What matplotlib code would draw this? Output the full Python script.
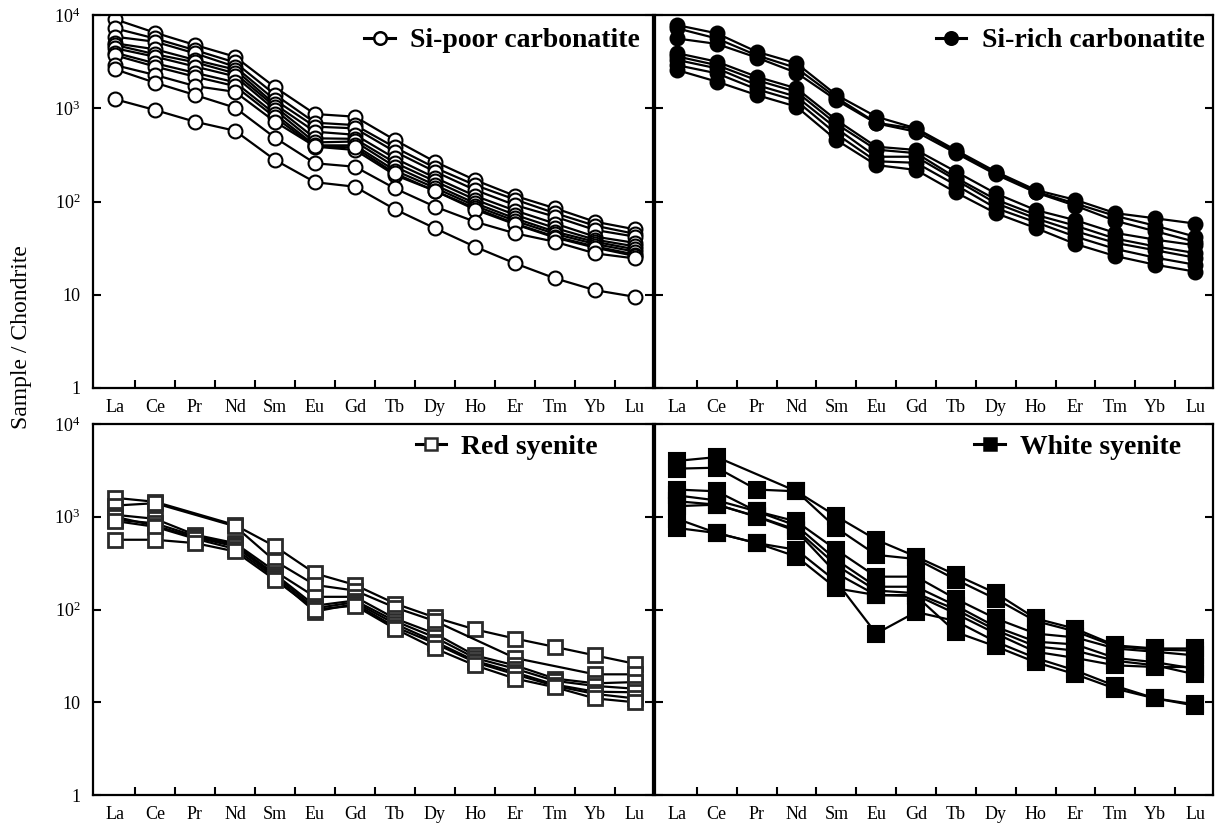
import numpy as np
import matplotlib
matplotlib.use("Agg")
import matplotlib.pyplot as plt
from matplotlib.lines import Line2D

plt.rcParams['font.family'] = ['Liberation Serif', 'DejaVu Serif']
plt.rcParams['mathtext.fontset'] = 'custom'
plt.rcParams['mathtext.rm'] = 'Liberation Serif'
plt.rcParams['mathtext.it'] = 'Liberation Serif:italic'
plt.rcParams['mathtext.bf'] = 'Liberation Serif:bold'

elements = ["La", "Ce", "Pr", "Nd", "Sm", "Eu", "Gd", "Tb", "Dy", "Ho", "Er", "Tm", "Yb", "Lu"]
ytick_vals = [1, 10, 100, 1000, 10000]
ytick_labels = ["1", "10", "$10^2$", "$10^3$", "$10^4$"]
nan = np.nan

si_poor = [
    [9000, 6460, 4770, 3570, 1680, 867, 812, 456, 267, 170, 115, 84.6, 60.7, 50.3],
    [7200, 5600, 4200, 3100, 1400, 700, 660, 380, 230, 150, 105, 75, 55, 45],
    [5850, 5170, 3880, 2790, 1225, 635, 609, 342, 209, 133, 91.6, 68.7, 49.5, 42],
    [4970, 4290, 3300, 2600, 1100, 560, 520, 290, 180, 115, 80, 58, 42, 36],
    [4770, 3800, 3110, 2370, 1040, 476, 470, 260, 165, 105, 72, 52, 39, 33],
    [4400, 3570, 2800, 2200, 960, 430, 440, 236, 150, 96, 66, 47.5, 37, 30.7],
    [3940, 3035, 2400, 1900, 867, 400, 400, 215, 140, 90, 62, 45, 35, 29],
    [3700, 2800, 2180, 1730, 800, 387, 357, 192, 130, 85, 58, 42, 33, 27],
    [2900, 2275, 1730, 1500, 717, 390, 380, 200, 130, 82, 57, 41, 32, 26],
    [2620, 1880, 1387, 1015, 483, 257, 236, 138, 88, 60.7, 45.6, 37, 27.8, 24.5],
    [1250, 958, 717, 574, 279, 161, 144, 82.4, 51.6, 32.7, 21.7, 15, 11.2, 9.5],
]

si_rich = [
    [7800, 6360, 4040, 3035, 1390, 812, 609, 355, 209, 133, 104, 75, 66, 58],
    [7200, 5600, 3700, 2700, 1300, 700, 600, 340, 200, 128, 95, 70, 55, 42],
    [5600, 4900, 3500, 2400, 1225, 689, 560, 330, 195, 125, 90, 62, 48, 37],
    [3900, 3160, 2180, 1635, 748, 387, 357, 209, 122, 81, 63, 46, 39, 34],
    [3600, 2900, 2000, 1500, 680, 360, 330, 180, 105, 72, 55, 40, 33, 28],
    [3300, 2680, 1775, 1330, 609, 302, 302, 170, 96, 66, 48, 36, 30, 25],
    [2900, 2370, 1600, 1200, 530, 270, 260, 150, 85, 60, 42, 31, 25, 21],
    [2570, 1930, 1387, 1040, 457, 246, 218, 125, 75, 52, 35, 26, 21, 17.7],
]

red_syenite = [
    [1600, 1450, nan, 815, 479, 245, 184, 116, 82, 61, 48.6, 39.5, 32, 26],
    [1320, 1400, nan, 790, 333, 184, 160, 105, 75, nan, 30, nan, 20, 20],
    [1050, 950, 640, 520, 258, 137, 137, 80, 55, 32, 25, 18, 16, 16.5],
    [930, 850, 620, 500, 240, 110, 125, 75, 50, 30, 23, 17, 15, 14],
    [1000, 800, 600, 480, 230, 103, 120, 70, 45, 28, 21, 15.5, 13, 12.8],
    [900, 780, 580, 450, 220, 95, 115, 65, 43, 27, 20, 15, 12.3, 11],
    [565, 565, 520, 423, 209, 100, 110, 62, 38, 25, 18, 14.5, 11, 10],
]

white_syenite = [
    [4000, 4400, nan, 1880, 1010, 565, 372, 236, 150, 80, 62, 41, 38, 38],
    [3300, 3380, 1965, 1880, 757, 388, 350, 210, 130, 75, 58, 40, 37, 36],
    [1965, 1880, 1145, 890, 440, 226, 226, 130, 80, 55, 50, 38, 35, 32],
    [1700, 1500, 1145, 800, 343, 176, 176, 110, 65, 45, 42, 30, 27, 23],
    [1470, 1350, 1010, 724, 300, 160, 150, 100, 60, 40, 36, 28, 25, 20],
    [1300, 1350, 1000, 700, 246, 143, 143, 90, 55, 35, 30, 25, 24, 24],
    [950, 667, 520, 440, 200, 55, 94, 75, 45, 30, 22, 15, 11, 9.5],
    [757, 667, 520, 372, 169, 143, 140, 57, 40, 27, 20, 14, 11, 9.2],
]

groups = [
    ("Si-poor carbonatite", si_poor, dict(marker='o', mfc='white', mec='black', ms=10, mew=1.5)),
    ("Si-rich carbonatite", si_rich, dict(marker='o', mfc='black', mec='black', ms=10, mew=1.5)),
    ("Red syenite", red_syenite, dict(marker='s', mfc='white', mec='#2a2a2a', ms=10, mew=2.0)),
    ("White syenite", white_syenite, dict(marker='s', mfc='black', mec='black', ms=12, mew=1.5)),
]

W, H = 1218, 823
fig = plt.figure(figsize=(W / 100, H / 100), dpi=100)

boxes = [
    (93, 15, 560, 373),
    (655, 15, 558, 373),
    (93, 424, 560, 371),
    (655, 424, 558, 371),
]
legend_anchor = [(0.977, 0.965), (0.985, 0.965), (0.902, 0.972), (0.943, 0.972)]

x = np.arange(len(elements))
for i, ((name, data, style), (bx, by, bw, bh)) in enumerate(zip(groups, boxes)):
    ax = fig.add_axes([bx / W, 1 - (by + bh) / H, bw / W, bh / H])
    for row in data:
        y = np.array(row, dtype=float)
        m = ~np.isnan(y)
        ax.plot(x[m], y[m], color='black', lw=1.6, **style)
    ax.set_yscale('log')
    ax.set_ylim(1, 10000)
    ax.set_xlim(-0.55, 13.45)
    ax.set_xticks(x)
    ax.set_xticklabels(elements, fontsize=13)
    ax.set_xticks(np.arange(0.5, 13, 1), minor=True)
    ax.tick_params(axis='x', which='major', length=0, pad=8)
    ax.tick_params(axis='x', which='minor', direction='in', length=6, width=1.5, top=False, bottom=True)
    ax.set_yticks(ytick_vals)
    ax.yaxis.set_minor_locator(matplotlib.ticker.NullLocator())
    ax.tick_params(axis='y', which='major', direction='in', length=6, width=1.5, left=True, right=True, pad=9)
    if i % 2 == 0:
        ax.set_yticklabels(ytick_labels, fontsize=13)
    else:
        ax.set_yticklabels([])
    for sp in ax.spines.values():
        sp.set_linewidth(1.6)
    hstyle = {k: v for k, v in style.items() if k not in ('ms', 'mew')}
    handle = Line2D([0], [0], color='black', lw=2.2, mew=1.8, ms=9, **hstyle)
    ax.legend([handle], [name], loc='upper right', bbox_to_anchor=legend_anchor[i],
              frameon=False, borderpad=0, borderaxespad=0, handlelength=1.1,
              handletextpad=0.55, prop=dict(family='Liberation Serif', weight='bold', size=20))

fig.text(22 / W, 1 - 337 / H, "Sample / Chondrite", rotation=90, ha='center', va='center', fontsize=17)

fig.savefig("out.png", dpi=100)
